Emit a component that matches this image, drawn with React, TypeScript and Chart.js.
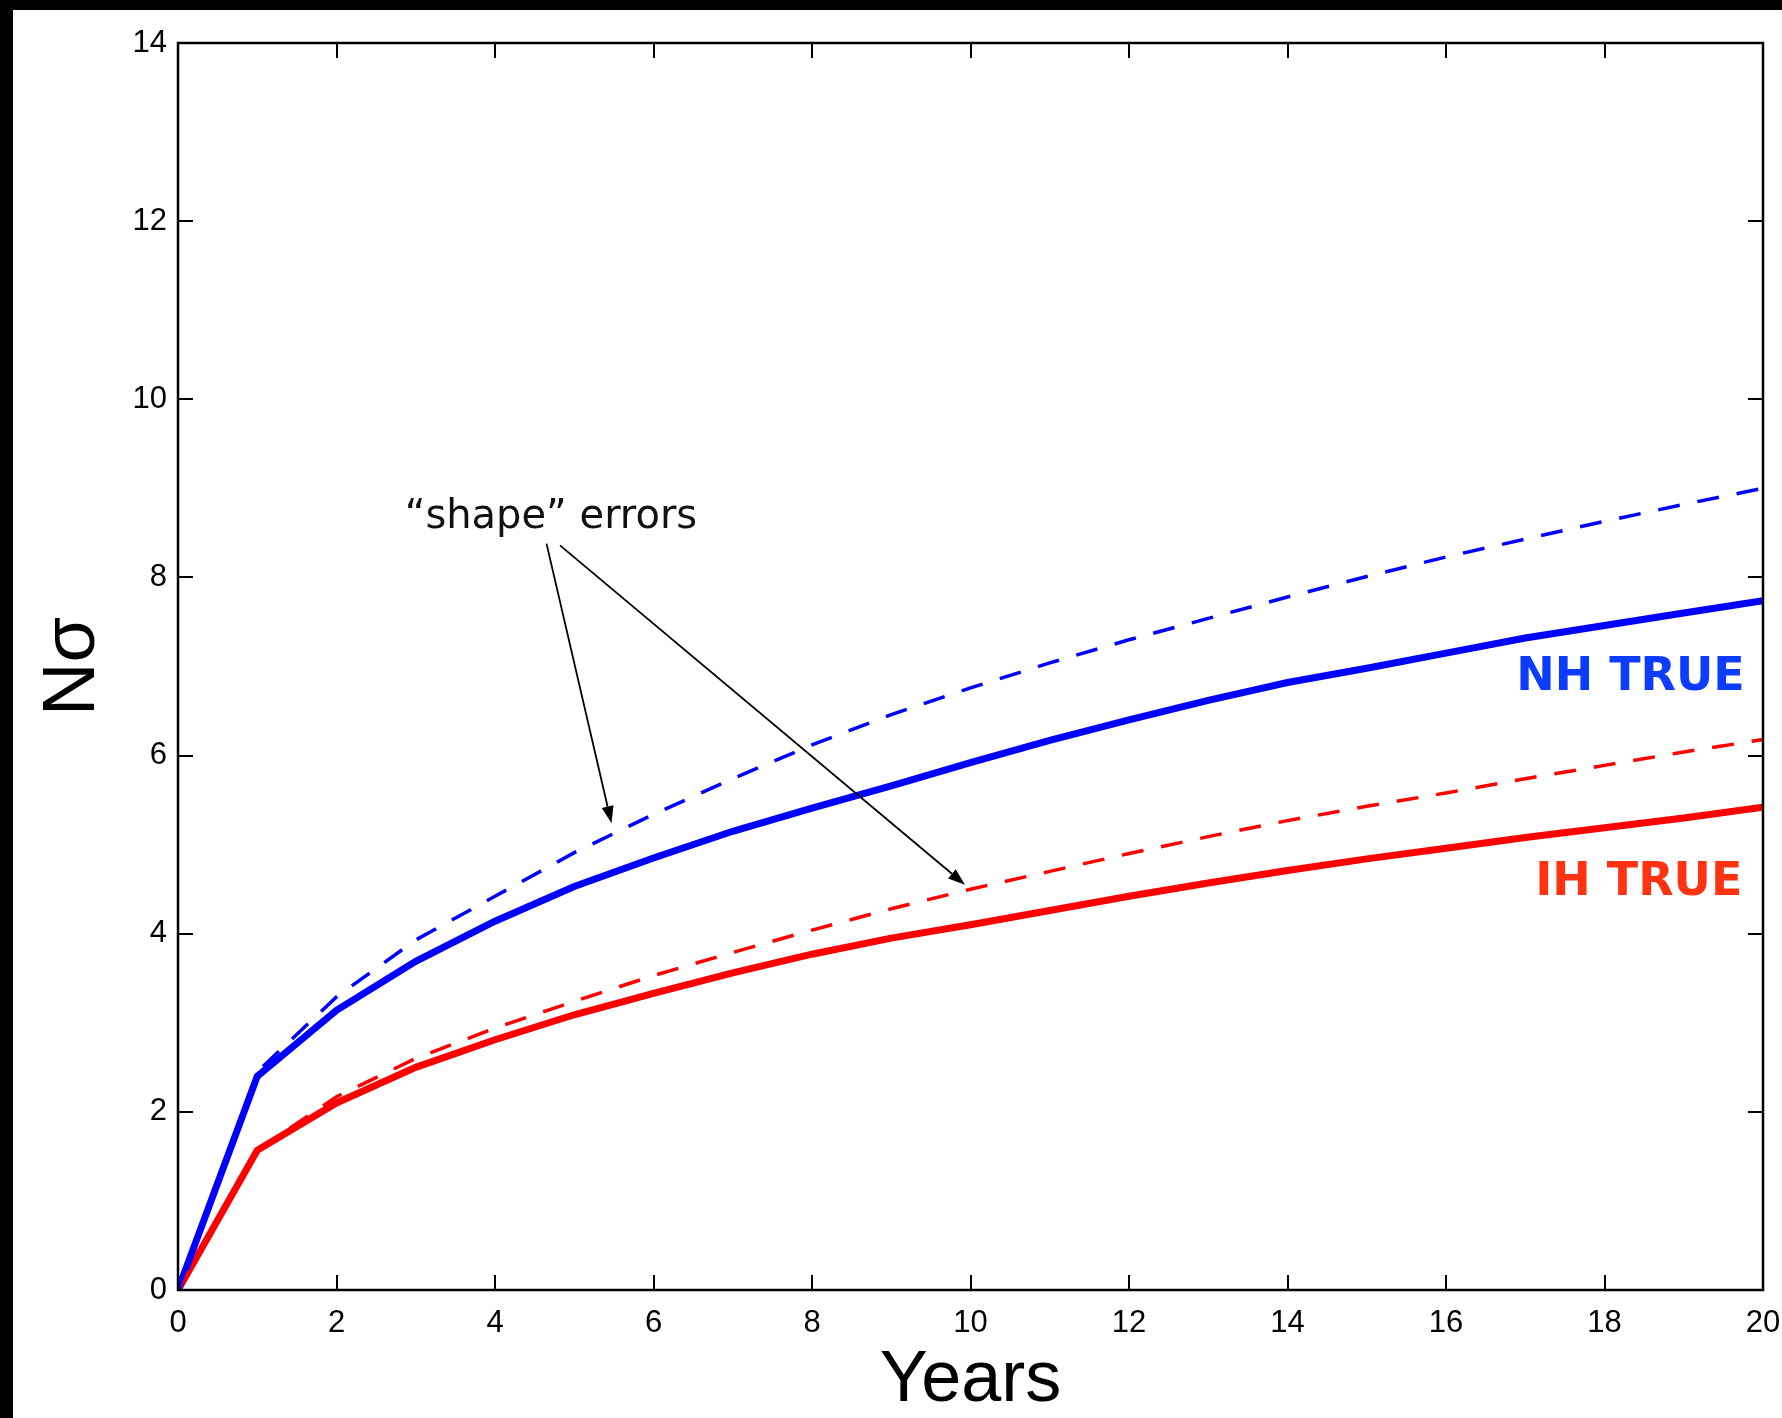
import React, { useEffect, useRef } from 'react';
import { Chart, registerables } from 'chart.js';

Chart.register(...registerables);

// ---- data ----
const years = [0, 1, 2, 3, 4, 5, 6, 7, 8, 9, 10, 11, 12, 13, 14, 15, 16, 17, 18, 19, 20];
const nhTrue = [0, 2.40, 3.14, 3.69, 4.14, 4.53, 4.85, 5.15, 5.41, 5.66, 5.92, 6.17, 6.40, 6.62, 6.82, 6.98, 7.15, 7.32, 7.46, 7.60, 7.74];
const nhShape = [0, 2.45, 3.29, 3.93, 4.42, 4.91, 5.34, 5.74, 6.12, 6.46, 6.76, 7.04, 7.30, 7.54, 7.78, 8.01, 8.23, 8.43, 8.63, 8.82, 9.00];
const ihTrue = [0, 1.57, 2.10, 2.50, 2.81, 3.09, 3.33, 3.56, 3.77, 3.95, 4.10, 4.26, 4.42, 4.57, 4.71, 4.84, 4.96, 5.08, 5.19, 5.30, 5.42];
const ihShape = [0, 1.57, 2.17, 2.60, 2.94, 3.24, 3.53, 3.79, 4.04, 4.28, 4.50, 4.70, 4.90, 5.09, 5.27, 5.43, 5.58, 5.74, 5.89, 6.04, 6.18];

const xTickValues = [0, 2, 4, 6, 8, 10, 12, 14, 16, 18, 20];
const yTickValues = [0, 2, 4, 6, 8, 10, 12, 14];

const xTitle = 'Years';
const yTitle = 'Nσ';

// annotations (data coordinates)
const annotationText = '“shape” errors';
const annotationAnchor = { x: 2.86, y: 8.555 };
const arrowFrom = [{ x: 4.65, y: 8.38 }, { x: 4.82, y: 8.36 }];
const arrowTo = [{ x: 5.47, y: 5.24 }, { x: 9.93, y: 4.55 }];
const nhLabel = 'NH TRUE';
const nhLabelAnchor = { x: 19.77, y: 6.74 };
const ihLabel = 'IH TRUE';
const ihLabelAnchor = { x: 19.74, y: 4.435 };

const toPoints = (ys: number[]) => ys.map((y, i) => ({ x: years[i], y }));

const framePlugin = {
  id: 'frameAndTicks',
  afterDraw(chart: any) {
    const { ctx, chartArea, scales } = chart;
    const { left, right, top, bottom } = chartArea;
    const xs = scales.x;
    const ys = scales.y;
    const tl = 15;
    ctx.save();
    ctx.strokeStyle = '#000';
    ctx.lineWidth = 2;
    ctx.beginPath();
    xTickValues.forEach((v) => {
      const px = Math.round(xs.getPixelForValue(v));
      ctx.moveTo(px, bottom);
      ctx.lineTo(px, bottom - tl);
      ctx.moveTo(px, top);
      ctx.lineTo(px, top + tl);
    });
    yTickValues.forEach((v) => {
      const py = Math.round(ys.getPixelForValue(v));
      ctx.moveTo(left, py);
      ctx.lineTo(left + tl, py);
      ctx.moveTo(right, py);
      ctx.lineTo(right - tl, py);
    });
    ctx.stroke();
    ctx.lineWidth = 2.5;
    ctx.strokeRect(left, top, right - left, bottom - top);
    ctx.restore();

    // annotations
    const px = (p: { x: number }) => xs.getPixelForValue(p.x);
    const py = (p: { y: number }) => ys.getPixelForValue(p.y);
    ctx.save();
    ctx.fillStyle = '#111';
    ctx.font = '40px "DejaVu Sans"';
    ctx.textAlign = 'left';
    ctx.textBaseline = 'alphabetic';
    ctx.fillText(annotationText, px(annotationAnchor), py(annotationAnchor));

    ctx.strokeStyle = '#000';
    ctx.fillStyle = '#000';
    ctx.lineWidth = 1.8;
    arrowFrom.forEach((from, i) => {
      const to = arrowTo[i];
      const x1 = px(from), y1 = py(from), x2 = px(to), y2 = py(to);
      const ang = Math.atan2(y2 - y1, x2 - x1);
      const hl = 17, hw = 6;
      const bx = x2 - hl * Math.cos(ang);
      const by = y2 - hl * Math.sin(ang);
      ctx.beginPath();
      ctx.moveTo(x1, y1);
      ctx.lineTo(bx, by);
      ctx.stroke();
      ctx.beginPath();
      ctx.moveTo(x2, y2);
      ctx.lineTo(bx + hw * Math.sin(ang), by - hw * Math.cos(ang));
      ctx.lineTo(bx - hw * Math.sin(ang), by + hw * Math.cos(ang));
      ctx.closePath();
      ctx.fill();
    });

    ctx.textAlign = 'right';
    ctx.font = 'bold 46px "DejaVu Sans"';
    ctx.fillStyle = '#0d3cff';
    ctx.fillText(nhLabel, px(nhLabelAnchor), py(nhLabelAnchor));
    ctx.fillStyle = '#ff3312';
    ctx.fillText(ihLabel, px(ihLabelAnchor), py(ihLabelAnchor));
    ctx.restore();
  },
};

export default function App() {
  const canvasRef = useRef<HTMLCanvasElement | null>(null);

  useEffect(() => {
    if (!canvasRef.current) return;
    const family = '"Liberation Sans", Arial, sans-serif';
    const tickFont = { family, size: 31 };
    const chart = new Chart(canvasRef.current, {
      type: 'line',
      data: {
        datasets: [
          { label: 'NH shape', data: toPoints(nhShape), borderColor: '#0000ff', borderWidth: 3.5, borderDash: [22, 18], pointRadius: 0, fill: false, tension: 0 },
          { label: 'IH shape', data: toPoints(ihShape), borderColor: '#ff0000', borderWidth: 3.5, borderDash: [22, 18], pointRadius: 0, fill: false, tension: 0 },
          { label: 'NH true', data: toPoints(nhTrue), borderColor: '#0000ff', borderWidth: 7, pointRadius: 0, fill: false, tension: 0 },
          { label: 'IH true', data: toPoints(ihTrue), borderColor: '#ff0000', borderWidth: 7, pointRadius: 0, fill: false, tension: 0 },
        ],
      },
      options: {
        animation: false,
        responsive: false,
        maintainAspectRatio: false,
        layout: { padding: { left: 0, right: 19, top: 33, bottom: 0 } },
        plugins: { legend: { display: false }, tooltip: { enabled: false } },
        scales: {
          x: {
            type: 'linear',
            min: 0,
            max: 20,
            grid: { display: false, drawTicks: false },
            border: { display: false },
            afterBuildTicks: (s: any) => { s.ticks = xTickValues.map((v) => ({ value: v })); },
            afterFit: (s: any) => { s.height = 128; s.paddingLeft = 0; s.paddingRight = 0; },
            ticks: { color: '#000', font: tickFont, padding: 15, maxRotation: 0, autoSkip: false },
            title: { display: true, text: xTitle, color: '#000', font: { family, size: 72, lineHeight: 1 }, padding: { top: 0, bottom: 1 } },
          },
          y: {
            type: 'linear',
            min: 0,
            max: 14,
            grid: { display: false, drawTicks: false },
            border: { display: false },
            afterBuildTicks: (s: any) => { s.ticks = yTickValues.map((v) => ({ value: v })); },
            afterFit: (s: any) => { s.width = 165; s.paddingTop = 0; s.paddingBottom = 0; },
            ticks: { color: '#000', font: tickFont, padding: 11, autoSkip: false },
            title: { display: true, text: yTitle, color: '#000', font: { family, size: 74 }, padding: { top: 16, bottom: 0 } },
          },
        },
      },
      plugins: [framePlugin],
    });
    return () => chart.destroy();
  }, []);

  return (
    <div style={{ position: 'fixed', left: 0, top: 0, width: 1782, height: 1418, background: '#000', overflow: 'hidden' }}>
      <div style={{ position: 'absolute', left: 13, top: 10, width: 1769, height: 1408, background: '#fff' }}>
        <canvas ref={canvasRef} width={1769} height={1408} style={{ display: 'block', width: 1769, height: 1408 }} />
      </div>
    </div>
  );
}
